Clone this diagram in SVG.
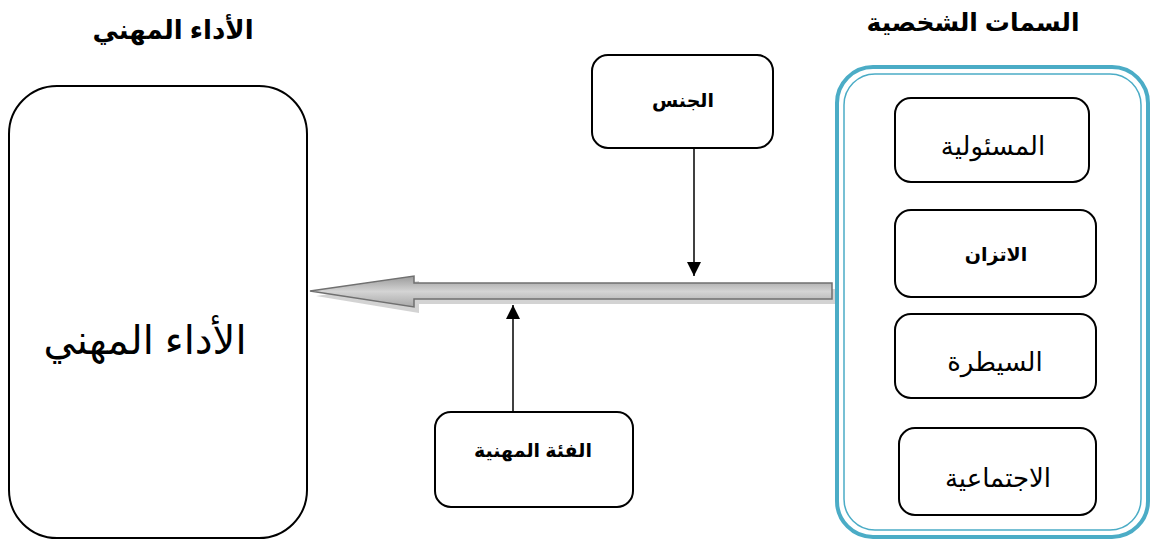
<svg xmlns="http://www.w3.org/2000/svg" width="1154" height="539" viewBox="0 0 1154 539">
<style>
.box{fill:#fff;stroke:#000;stroke-width:2}
.t{font-family:"Liberation Sans","DejaVu Sans",sans-serif;fill:#000;text-anchor:middle;direction:rtl}
.b{font-weight:bold}
.ln{stroke:#000;stroke-width:1.5;fill:none}
</style>
<defs>
<marker id="ah" viewBox="0 0 10 10" refX="10" refY="5" markerWidth="15" markerHeight="14" orient="auto" markerUnits="userSpaceOnUse">
<path d="M0,0 L10,5 L0,10 z" fill="#000"/>
</marker>
<linearGradient id="g" x1="0" y1="0" x2="0" y2="1">
<stop offset="0" stop-color="#9a9a9a"/>
<stop offset="0.5" stop-color="#d4d4d4"/>
<stop offset="1" stop-color="#a8a8a8"/>
</linearGradient>
</defs>
<rect width="1154" height="539" fill="#fff"/>
<text class="t b" x="173" y="39" font-size="26">الأداء المهني</text>
<text class="t b" x="973" y="31" font-size="25">السمات الشخصية</text>
<g id="performance">
<rect class="box" x="9" y="86" width="298" height="452" rx="48"/>
<text class="t" x="145" y="354" font-size="40">الأداء المهني</text>
</g>
<g id="traits">
<rect x="837" y="67" width="311" height="470" rx="36" fill="#fff" stroke="#4bacc6" stroke-width="4"/>
<rect x="844" y="74" width="297" height="456" rx="31" fill="none" stroke="#4bacc6" stroke-width="1.5"/>
</g>
<g id="responsibility">
<rect class="box" x="895" y="98" width="194" height="84" rx="16"/>
<text class="t" x="993" y="155" font-size="26">المسئولية</text>
</g>
<g id="balance">
<rect class="box" x="895" y="210" width="201" height="87" rx="16"/>
<text class="t b" x="996" y="261" font-size="19">الاتزان</text>
</g>
<g id="dominance">
<rect class="box" x="895" y="314" width="201" height="84" rx="16"/>
<text class="t" x="995" y="371" font-size="26">السيطرة</text>
</g>
<g id="sociability">
<rect class="box" x="899" y="428" width="197" height="87" rx="16"/>
<text class="t" x="998" y="487" font-size="26">الاجتماعية</text>
</g>
<g id="gender">
<rect class="box" x="592" y="55" width="181" height="93" rx="16"/>
<text class="t b" x="683" y="107" font-size="19">الجنس</text>
</g>
<g id="category">
<rect class="box" x="435" y="412" width="198" height="95" rx="16"/>
<text class="t b" x="533" y="457" font-size="19">الفئة المهنية</text>
</g>
<g id="connectors">
<path d="M835,289 L419,289 L419,281 L316,296 L419,313 L419,304 L835,304 z" fill="#c8c8c8" opacity="0.8"/>
<path d="M832,283 L414,283 L414,276 L310,291 L414,307 L414,299 L832,299 z" fill="url(#g)" stroke="#707070" stroke-width="1.5"/>
<line class="ln" x1="694" y1="148" x2="694" y2="276" marker-end="url(#ah)"/>
<line class="ln" x1="513" y1="412" x2="513" y2="305" marker-end="url(#ah)"/>
</g>
</svg>
